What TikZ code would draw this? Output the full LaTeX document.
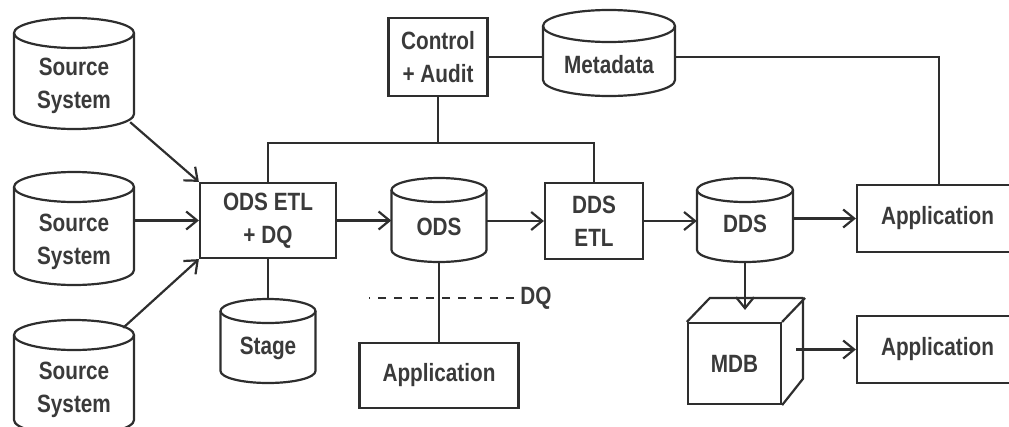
\documentclass[tikz,border=0pt]{standalone}
\usepackage{fontspec}
\setmainfont{Liberation Sans}[FakeStretch=0.83,UprightFont=*-Bold]
\usetikzlibrary{arrows.meta,calc}
\definecolor{ink}{HTML}{2E2E2E}
\definecolor{txt}{HTML}{3A3A3A}

% database cylinder: name, centre x, top y, bottom y, half width, cap radius
\newcommand\dbcyl[6]{%
  \node[minimum width=2*#5, minimum height=#4-#3, inner sep=0] (#1) at (#2,{(#3+#4)/2}) {};
  \draw[link] (#2-#5,#3+#6) -- (#2-#5,#4-#6)
     arc[start angle=180,end angle=0,x radius=#5,y radius=#6] -- (#2+#5,#3+#6);
  \draw[link] (#2,#3+#6) ellipse[x radius=#5,y radius=#6];
}

\begin{document}
\begin{tikzpicture}[x=1pt,y=-1pt,
  link/.style={draw=ink,line width=2.2pt},
  box/.style={draw=ink,line width=2.2pt,inner sep=0,align=center},
  lbl/.style={align=center},
  flow/.style={link,-{Straight Barb[length=11pt,width=18pt,line width=2.2pt]}},
  every node/.style={font=\fontsize{25}{33}\selectfont,text=txt}]
\clip (0,0) rectangle (1009,426);

% source systems
\dbcyl{s1}{74}{18}{129}{60}{15}
\node[lbl] at (74,86) {Source\\System};
\dbcyl{s2}{74}{172}{285}{60}{15}
\node[lbl] at (74,242) {Source\\System};
\dbcyl{s3}{74}{320}{435}{60}{15}
\node[lbl] at (74,390) {Source\\System};

% ETL and control
\node[box,minimum width=136,minimum height=75] (etl) at (268,220.5) {ODS ETL\\+ DQ};
\node[box,minimum width=99,minimum height=78] (ctrl) at (438,57) {Control\\+ Audit};
\dbcyl{meta}{609}{10}{96}{66}{16}
\node[lbl] at (609,65) {Metadata};

% stores
\dbcyl{ods}{439}{178}{262}{47.5}{12}
\node[lbl] at (439,227) {ODS};
\node[box,minimum width=98,minimum height=76] (ddsetl) at (594,221) {DDS\\ETL};
\dbcyl{dds}{745}{178}{262}{48}{12}
\node[lbl] at (745,224) {DDS};
\dbcyl{stage}{268}{299}{383}{47.5}{12}
\node[lbl] at (268,348) {Stage};

% applications
\node[box,minimum width=161,minimum height=67] (app1) at (937.5,218.5) {Application};
\node[box,minimum width=161,minimum height=67] (app2) at (937.5,349.5) {Application};
\node[box,minimum width=159,minimum height=65] (app3) at (439,375.5) {Application};

% MDB cube
\node[box,minimum width=93,minimum height=81] (mdb) at (734.5,363.5) {MDB};
\draw[link,line join=round] (mdb.north west) -- ++(23,-24) -- ++(93,0) -- ++(0,81) -- (mdb.south east);
\draw[link] (mdb.north east) -- ++(23,-24);
\coordinate (mdbtop) at ($(mdb.north)+(11.5,-12)$);
\coordinate (mdbside) at ($(mdb.east)+(14,0)$);

% data flow
\draw[flow] ([shift={(-4,-7)}]s1.south east) -- (etl.north west);
\draw[flow] (s2.east |- etl.west) -- (etl.west);
\draw[flow] ([shift={(-11,8)}]s3.north east) -- (etl.south west);
\draw[flow] (etl.east) -- (ods.west |- etl.east);
\draw[flow] (ods.east |- ddsetl.west) -- (ddsetl.west);
\draw[flow] (ddsetl.east) -- (dds.west |- ddsetl.east);
\draw[flow] (dds.east |- app1.west) -- (app1.west);
\draw[flow] (dds.south) -- (dds.south |- mdbtop);
\draw[flow] (mdbside |- app2.west) -- (app2.west);

% plain links
\coordinate (bus) at (439,143);
\draw[link] (etl.north) |- (bus) -| (ddsetl.north);
\draw[link] (ctrl.south) -- (ctrl.south |- bus);
\draw[link] (ctrl.east) -- (ctrl.east -| meta.west);
\draw[link] (ctrl.east -| meta.east) -| ([xshift=1.5]app1.north);
\draw[link] (etl.south) -- (stage.north);
\draw[link] (ods.south) -- (app3.north);

% data quality check
\node[inner sep=6pt] (dq) at (536,298) {DQ};
\draw[ink,line width=1.6pt,dash pattern=on 8pt off 8pt] (dq.west) -- ++(-145,0);
\end{tikzpicture}
\end{document}
